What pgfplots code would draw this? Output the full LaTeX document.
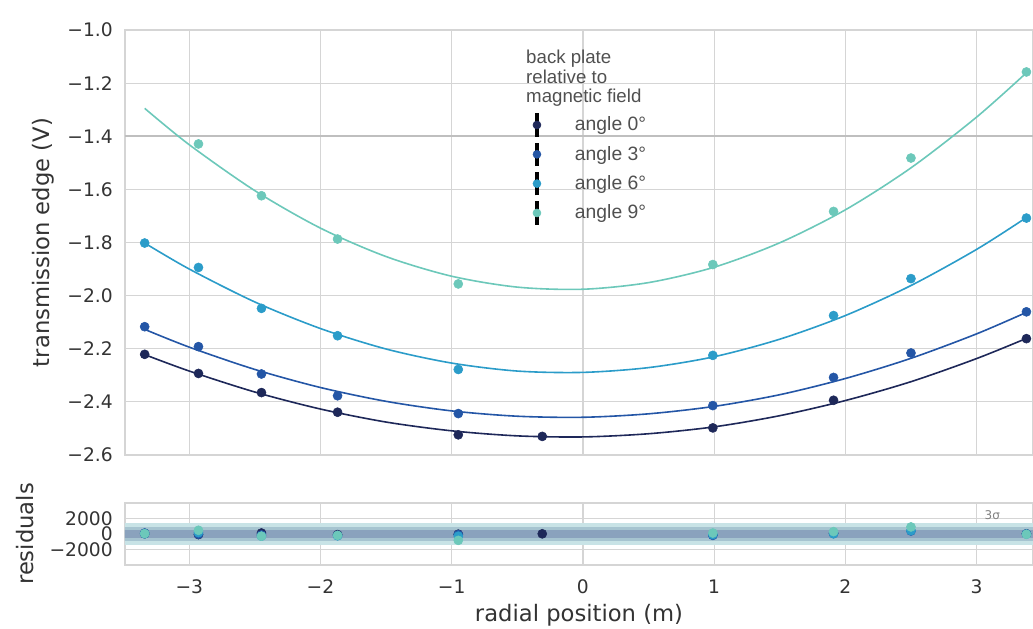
\documentclass[border=0pt]{standalone}
\usepackage{pgfplots}
\pgfplotsset{compat=1.18}
\usepackage{fontspec}
\setmainfont{DejaVu Sans}
\newfontfamily\legfont{Liberation Sans}
\definecolor{c0}{HTML}{1E2859}
\definecolor{c3}{HTML}{2456A6}
\definecolor{c6}{HTML}{2B9CC9}
\definecolor{c9}{HTML}{6CC8BA}
\definecolor{gridc}{HTML}{D5D5D5}
\definecolor{labc}{HTML}{333333}
\definecolor{legc}{HTML}{505050}
\definecolor{b1}{HTML}{C8E3E6}
\definecolor{b2}{HTML}{A6C4D0}
\definecolor{b3}{HTML}{8AA2BD}
\begin{document}
\begin{tikzpicture}
\pgfplotsset{
 base/.style={scale only axis, width=681pt, xmin=-3.49, xmax=3.43,
   xtick={-3,-2,-1,0,1,2,3},
   axis line style={draw=gridc, line width=0.9pt},
   grid=major, grid style={draw=gridc, line width=0.9pt},
   major tick length=0pt, tick style={draw=none},
   tick label style={font=\fontsize{14}{16}\selectfont, text=labc},
   yticklabel style={anchor=east, inner sep=0pt, xshift=-9pt},
 },
 fitline/.style={line width=1.2pt, smooth, forget plot},
 pts/.style={only marks, mark=*, mark size=3.4pt, forget plot},
}
\begin{axis}[base, at={(93.75pt,130.5pt)}, anchor=south west, height=318.75pt,
  ymin=-2.6, ymax=-1.0,
  ytick={-2.6,-2.4,-2.2,-2.0,-1.8,-1.6,-1.4,-1.2,-1.0},
  yticklabels={−2.6,−2.4,−2.2,−2.0,−1.8,−1.6,−1.4,−1.2,−1.0},
  extra y ticks={-1.4}, extra y tick labels={},
  extra y tick style={grid style={draw=gray!50, line width=1.3pt}},
  xticklabels={},
  ylabel={transmission edge (V)},
  every axis y label/.style={at={(axis description cs:-0.0903,0.5)}, rotate=90, anchor=center, font=\fontsize{17}{20}\selectfont, text=labc},
  legend style={at={(0.4537,0.811)}, anchor=north west, xshift=-5pt,
    draw=none, fill=none, inner sep=0pt, outer sep=0pt, row sep=0pt, column sep=0pt,
    nodes={inner sep=0pt, text=legc, font=\legfont\fontsize{14.5}{16}\selectfont},
    cells={anchor=west}},
]
\addlegendimage{legend image code/.code={\path[draw=none,fill=none] (0pt,-11pt) rectangle (33.5pt,11pt); \draw[black, line width=2.6pt] (5pt,-8.8pt) -- (5pt,8.8pt); \fill[c0] (5pt,0pt) circle (3pt);}}
\addlegendentry{angle 0°}
\addlegendimage{legend image code/.code={\path[draw=none,fill=none] (0pt,-11pt) rectangle (33.5pt,11pt); \draw[black, line width=2.6pt] (5pt,-8.8pt) -- (5pt,8.8pt); \fill[c3] (5pt,0pt) circle (3pt);}}
\addlegendentry{angle 3°}
\addlegendimage{legend image code/.code={\path[draw=none,fill=none] (0pt,-11pt) rectangle (33.5pt,11pt); \draw[black, line width=2.6pt] (5pt,-8.8pt) -- (5pt,8.8pt); \fill[c6] (5pt,0pt) circle (3pt);}}
\addlegendentry{angle 6°}
\addlegendimage{legend image code/.code={\path[draw=none,fill=none] (0pt,-11pt) rectangle (33.5pt,11pt); \draw[black, line width=2.6pt] (5pt,-8.8pt) -- (5pt,8.8pt); \fill[c9] (5pt,0pt) circle (3pt);}}
\addlegendentry{angle 9°}

% fitted curves
\addplot[fitline, c0] coordinates {(-3.34,-2.222)(-3.0,-2.284)(-2.5,-2.363)(-2.0,-2.427)(-1.5,-2.476)(-1.0,-2.509)(-0.5,-2.528)(0,-2.532)(0.5,-2.520)(1.0,-2.494)(1.5,-2.452)(2.0,-2.395)(2.5,-2.324)(3.0,-2.237)(3.38,-2.161)};
\addplot[fitline, c3] coordinates {(-3.34,-2.127)(-3.0,-2.194)(-2.5,-2.278)(-2.0,-2.346)(-1.5,-2.398)(-1.0,-2.434)(-0.5,-2.454)(0,-2.458)(0.5,-2.445)(1.0,-2.417)(1.5,-2.373)(2.0,-2.312)(2.5,-2.236)(3.0,-2.144)(3.38,-2.063)};
\addplot[fitline, c6] coordinates {(-3.34,-1.802)(-3.0,-1.900)(-2.5,-2.024)(-2.0,-2.124)(-1.5,-2.201)(-1.0,-2.254)(-0.5,-2.284)(0,-2.289)(0.5,-2.271)(1.0,-2.230)(1.5,-2.164)(2.0,-2.075)(2.5,-1.962)(3.0,-1.826)(3.38,-1.706)};
\addplot[fitline, c9] coordinates {(-3.34,-1.295)(-3.0,-1.432)(-2.5,-1.605)(-2.0,-1.746)(-1.5,-1.853)(-1.0,-1.927)(-0.5,-1.968)(0,-1.976)(0.5,-1.951)(1.0,-1.893)(1.5,-1.801)(2.0,-1.677)(2.5,-1.519)(3.0,-1.328)(3.38,-1.161)};
% data points
\addplot[pts, c0] coordinates {(-3.34,-2.221)(-2.93,-2.293)(-2.45,-2.365)(-1.87,-2.439)(-0.95,-2.524)(-0.31,-2.530)(0.99,-2.498)(1.91,-2.394)(3.38,-2.162)};
\addplot[pts, c3] coordinates {(-3.34,-2.117)(-2.93,-2.192)(-2.45,-2.295)(-1.87,-2.377)(-0.95,-2.444)(0.99,-2.414)(1.91,-2.308)(2.50,-2.216)(3.38,-2.061)};
\addplot[pts, c6] coordinates {(-3.34,-1.802)(-2.93,-1.894)(-2.45,-2.048)(-1.87,-2.151)(-0.95,-2.278)(0.99,-2.225)(1.91,-2.075)(2.50,-1.936)(3.38,-1.708)};
\addplot[pts, c9] coordinates {(-2.93,-1.429)(-2.45,-1.624)(-1.87,-1.787)(-0.95,-1.956)(0.99,-1.883)(1.91,-1.683)(2.50,-1.482)(3.38,-1.158)};

\node[anchor=west, inner sep=0pt, font=\fontsize{14}{16}\selectfont, text=labc] at (axis description cs:0,1) [xshift=1pt, yshift=10pt] {−1.8596e4};
\node[anchor=north west, inner sep=0pt, align=left, text=legc, font=\legfont\fontsize{14}{14.6}\selectfont] at (axis description cs:0.4416,0.953) {back plate\\relative to\\magnetic field};
\end{axis}

\begin{axis}[base, at={(93.75pt,48pt)}, anchor=south west, height=46.5pt,
  ymin=-4000, ymax=3950, ytick={-2000,0,2000}, yticklabels={−2000,0,2000},
  xticklabels={−3,−2,−1,0,1,2,3},
  xticklabel style={anchor=center, inner sep=0pt, yshift=-16.5pt},
  xlabel={radial position (m)},
  every axis x label/.style={at={(axis description cs:0.5,0)}, anchor=center, yshift=-37.5pt, font=\fontsize{17}{20}\selectfont, text=labc},
  ylabel={residuals},
  every axis y label/.style={at={(axis description cs:-0.1101,0.5)}, rotate=90, anchor=center, font=\fontsize{17}{20}\selectfont, text=labc},
]
\addplot[draw=none, fill=b1, forget plot] coordinates {(-3.6,-1380)(3.6,-1380)(3.6,1380)(-3.6,1380)};
\addplot[draw=none, fill=b2, forget plot] coordinates {(-3.6,-900)(3.6,-900)(3.6,900)(-3.6,900)};
\addplot[draw=none, fill=b3, forget plot] coordinates {(-3.6,-480)(3.6,-480)(3.6,480)(-3.6,480)};
\addplot[pts, c0] coordinates {(-3.34,0)(-2.93,-100)(-2.45,100)(-1.87,-100)(-0.95,-50)(-0.31,0)(0.99,-100)(1.91,50)(3.38,0)};
\addplot[pts, c3] coordinates {(-3.34,100)(-2.93,-50)(-2.45,-150)(-1.87,-200)(-0.95,-100)(0.99,-200)(1.91,100)(2.50,360)(3.38,0)};
\addplot[pts, c6] coordinates {(-3.34,0)(-2.93,150)(-2.45,-300)(-1.87,-250)(-0.95,-300)(0.99,-100)(1.91,0)(2.50,400)(3.38,-50)};
\addplot[pts, c9] coordinates {(-3.34,30)(-2.93,450)(-2.45,-300)(-1.87,-200)(-0.95,-840)(0.99,100)(1.91,280)(2.50,880)(3.38,-60)};
\node[font=\fontsize{9}{10}\selectfont, text=gray] at (axis cs:3.12,2390) {3σ};
\end{axis}
\pgfresetboundingbox
\path[use as bounding box] (0,0) rectangle (774.75pt,471.75pt);
\end{tikzpicture}
\end{document}
